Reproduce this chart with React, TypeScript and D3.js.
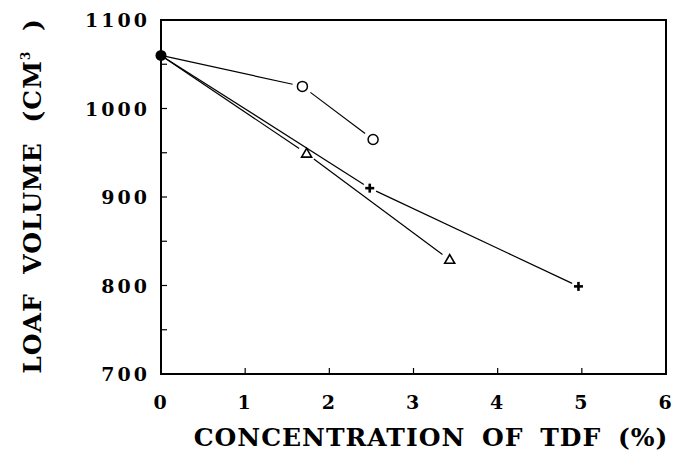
import React from "react";
import * as d3 from "d3";

const xTickValues = [0, 1, 2, 3, 4, 5, 6];
const yLabelValues = [700, 800, 900, 1000, 1100];
const yMinorValues = [750, 850, 950, 1050];

const circleX = [0, 1.68, 2.52];
const circleY = [1060, 1025, 965];
const triangleX = [0, 1.73, 3.43];
const triangleY = [1060, 949, 829];
const plusX = [0, 2.48, 4.96];
const plusY = [1060, 910, 799];

const W = 673;
const H = 468;
const FONT = "'DejaVu Serif', serif";

type Pt = [number, number];

function trimmedSegments(pts: Pt[], gaps: number[]) {
  const segs: [Pt, Pt][] = [];
  for (let i = 0; i < pts.length - 1; i++) {
    const [x0, y0] = pts[i];
    const [x1, y1] = pts[i + 1];
    const dx = x1 - x0, dy = y1 - y0;
    const L = Math.hypot(dx, dy);
    const ux = dx / L, uy = dy / L;
    segs.push([
      [x0 + ux * gaps[i], y0 + uy * gaps[i]],
      [x1 - ux * gaps[i + 1], y1 - uy * gaps[i + 1]],
    ]);
  }
  return segs;
}

export default function App() {
  const x = d3.scaleLinear().domain([0, 6]).range([161, 666]);
  const y = d3.scaleLinear().domain([700, 1100]).range([374, 20]);
  const line = d3.line<Pt>();

  const mk = (xs: number[], ys: number[]): Pt[] => xs.map((v, i) => [x(v), y(ys[i])]);
  const cPts = mk(circleX, circleY);
  const tPts = mk(triangleX, triangleY);
  const pPts = mk(plusX, plusY);

  const cSegs = trimmedSegments(cPts, [0, 10, 10]);
  const tSegs = trimmedSegments(tPts, [0, 9, 9]);
  const pSegs = trimmedSegments(pPts, [0, 7, 7]);
  const allSegs = [...cSegs, ...tSegs, ...pSegs];

  const triPath = (cx: number, cy: number) => {
    const s = 10;
    const h = s * 0.87;
    return `M${cx},${cy - h * 0.6}L${cx + s / 2},${cy + h * 0.4}L${cx - s / 2},${cy + h * 0.4}Z`;
  };

  const textStyle = { fontFamily: FONT, fontWeight: 700 } as React.CSSProperties;

  return (
    <svg
      width={W}
      height={H}
      style={{ position: "absolute", left: 0, top: 0, display: "block", background: "#fff" }}
    >
      <rect x={0} y={0} width={W} height={H} fill="#fff" />
      <rect x={x(0)} y={y(1100)} width={x(6) - x(0)} height={y(700) - y(1100)} fill="none" stroke="#000" strokeWidth={2} />
      {xTickValues.slice(1, -1).map((v) => (
        <line key={"xt" + v} x1={x(v)} x2={x(v)} y1={y(700)} y2={y(700) - 6} stroke="#000" strokeWidth={1.2} />
      ))}
      {[...yLabelValues.slice(1, -1), ...yMinorValues].map((v) => (
        <line key={"yt" + v} x1={x(0)} x2={x(0) + 6} y1={y(v)} y2={y(v)} stroke="#000" strokeWidth={1.2} />
      ))}
      {xTickValues.map((v) => (
        <text key={"xl" + v} x={x(v) - 1} y={409} textAnchor="middle" style={textStyle} fontSize={19}>
          {v}
        </text>
      ))}
      {yLabelValues.map((v) => (
        <text key={"yl" + v} x={150} y={y(v) + 7} textAnchor="end" style={textStyle} fontSize={19} letterSpacing={3}>
          {v}
        </text>
      ))}
      {allSegs.map((s, i) => (
        <path key={"s" + i} d={line(s) || ""} fill="none" stroke="#000" strokeWidth={1.2} />
      ))}
      {cPts.slice(1).map((p, i) => (
        <circle key={"c" + i} cx={p[0]} cy={p[1]} r={5} fill="#fff" stroke="#000" strokeWidth={1.5} />
      ))}
      {tPts.slice(1).map((p, i) => (
        <path key={"t" + i} d={triPath(p[0], p[1])} fill="#fff" stroke="#000" strokeWidth={1.6} />
      ))}
      {pPts.slice(1).map((p, i) => (
        <g key={"p" + i} stroke="#000" strokeWidth={2.6}>
          <line x1={p[0] - 4.5} x2={p[0] + 4.5} y1={p[1]} y2={p[1]} />
          <line x1={p[0]} x2={p[0]} y1={p[1] - 4.5} y2={p[1] + 4.5} />
        </g>
      ))}
      <circle cx={cPts[0][0]} cy={cPts[0][1]} r={5.5} fill="#000" />
      <text x={431} y={446} textAnchor="middle" style={textStyle} fontSize={25} letterSpacing={1} wordSpacing={7}>
        CONCENTRATION OF TDF (%)
      </text>
      <text
        transform={`translate(41,196) rotate(-90)`}
        textAnchor="middle"
        style={textStyle}
        fontSize={25}
        letterSpacing={1}
        wordSpacing={10}
      >
        LOAF VOLUME (CM<tspan fontSize={12} dy={-11}>3</tspan>
        <tspan dy={11}> )</tspan>
      </text>
    </svg>
  );
}
